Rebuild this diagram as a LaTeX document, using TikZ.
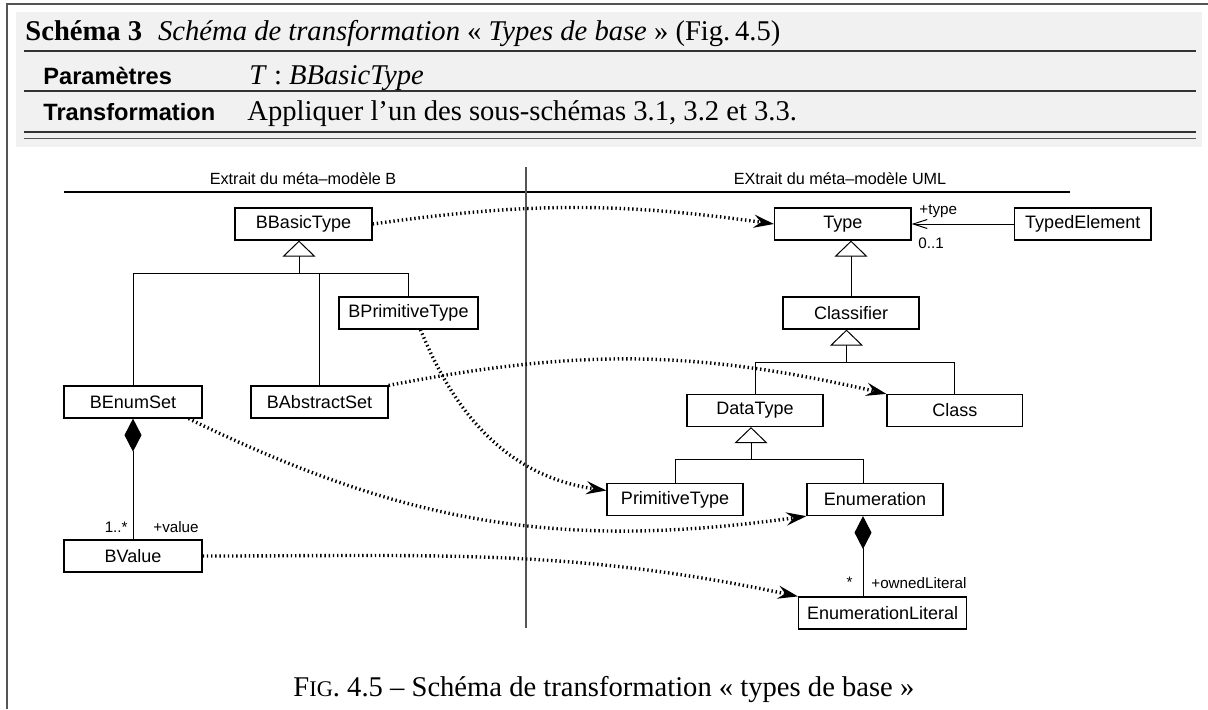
\documentclass[tikz,border=0pt]{standalone}
\usepackage{fontspec}
\setmainfont{Liberation Serif}
\setsansfont{Liberation Sans}
\usetikzlibrary{arrows.meta}

\begin{document}
\begin{tikzpicture}[x=0.5pt, y=-0.5pt,
    umlbox/.style={draw=black, line width=0.6pt, minimum height=16pt, inner sep=0pt,
        font=\sffamily\fontsize{9}{10}\selectfont},
    multLabel/.style={inner sep=0pt, font=\sffamily\fontsize{7.6}{9}\selectfont},
    titleLabel/.style={inner sep=0pt, font=\sffamily\fontsize{8.1}{10}\selectfont},
    generalisation/.style={line width=0.5pt, -{Triangle[open, fill=white, length=8pt, width=16.5pt]}},
    composition/.style={line width=0.5pt, {Diamond[length=16.5pt, width=8.5pt]}-},
    mapping/.style={line width=1.7pt, dash pattern=on 0.7pt off 1.4pt,
        -{Stealth[length=10pt, width=6.5pt, inset=3.5pt]}}]
    \useasboundingbox (0,0) rectangle (1208,709);

    \definecolor{frameColour}{HTML}{555555}
    \definecolor{ruleColour}{HTML}{333333}
    \definecolor{headerFill}{HTML}{F1F1F1}
    \def\serifSize{\fontsize{14.3}{17}\selectfont}
    \def\headSize{\sffamily\bfseries\fontsize{11.8}{14}\selectfont}

    % Frame and header table
    \draw[frameColour, line width=0.8pt] (7,709) -- (7,4) -- (1208,4);
    \fill[headerFill] (16,12) rectangle (1202,147);
    \draw[ruleColour, line width=0.6pt] (24,51) -- (1196,51);
    \draw[ruleColour, line width=0.6pt] (24,91) -- (1196,91);
    \draw[ruleColour, line width=0.7pt] (24,132) -- (1196,132);
    \draw[frameColour, line width=0.5pt] (24,138) -- (1196,138);

    \node[anchor=base west, inner sep=0pt, font=\serifSize] (schema) at (25,40)
        {\textbf{Schéma 3}\hspace{8pt}\textit{Schéma de transformation} « \textit{Types de base} » (Fig.\,4.5)};
    \node[anchor=base west, inner sep=0pt, font=\headSize] (paramKey) at (43,84) {Paramètres};
    \node[anchor=base west, inner sep=0pt, font=\serifSize] (paramVal) at (249,84) {\textit{T} : \textit{BBasicType}};
    \node[anchor=base west, inner sep=0pt, font=\headSize] (transKey) at (43,120) {Transformation};
    \node[anchor=base west, inner sep=0pt, font=\serifSize] (transVal) at (247,120)
        {Appliquer l’un des sous-schémas 3.1, 3.2 et 3.3.};

    % Two halves of the diagram
    \node[titleLabel] (titleB) at (303,179) {Extrait du méta–modèle B};
    \node[titleLabel] (titleUML) at (840,179) {EXtrait du méta–modèle UML};
    \draw[line width=0.6pt] (64,192) -- (1070,192);
    \draw[frameColour, line width=0.6pt] (526,167) -- (526,628);

    % B meta-model
    \node[umlbox, minimum width=68.5pt] (BBasicType) at (303.5,224) {BBasicType};
    \node[umlbox, minimum width=69.5pt] (BPrimitiveType) at (408.5,313) {BPrimitiveType};
    \node[umlbox, minimum width=69pt] (BEnumSet) at (133,402) {BEnumSet};
    \node[umlbox, minimum width=68.5pt] (BAbstractSet) at (319.5,402) {BAbstractSet};
    \node[umlbox, minimum width=69pt] (BValue) at (133,556) {BValue};

    \coordinate (genB) at (299,273);
    \draw[generalisation] (genB) -- (genB |- BBasicType.south);
    \draw[line width=0.5pt] (BEnumSet.north) |- (genB) -| (BPrimitiveType.north);
    \draw[line width=0.5pt] (BAbstractSet.north) -- (BAbstractSet.north |- genB);
    \draw[composition] (BEnumSet.south) -- (BValue.north);
    \node[multLabel, anchor=east] (valueMult) at (128,527) {1..*};
    \node[multLabel, anchor=west] (valueRole) at (153,527) {+value};

    % UML meta-model
    \node[umlbox, minimum width=68.25pt] (Type) at (842.75,224) {Type};
    \node[umlbox, minimum width=68.25pt] (TypedElement) at (1082.75,224) {TypedElement};
    \node[umlbox, minimum width=68pt] (Classifier) at (851,313) {Classifier};
    \node[umlbox, minimum width=68pt] (DataType) at (755,410.5) {DataType};
    \node[umlbox, minimum width=67.75pt] (Class) at (954.75,410.5) {Class};
    \node[umlbox, minimum width=68pt] (PrimitiveType) at (675,499.5) {PrimitiveType};
    \node[umlbox, minimum width=68pt] (Enumeration) at (875,499.5) {Enumeration};
    \node[umlbox, minimum width=84pt] (EnumerationLiteral) at (882.6,613) {EnumerationLiteral};

    \draw[line width=0.5pt, -{Straight Barb[length=7pt, width=4.5pt]}] (TypedElement.west) -- (Type.east);
    \node[multLabel, anchor=west] (typeRole) at (919,211) {+type};
    \node[multLabel, anchor=west] (typeMult) at (918,243) {0..1};

    \draw[generalisation] (Classifier.north) -- (Classifier.north |- Type.south);
    \coordinate (genC) at (846.5,362);
    \draw[generalisation] (genC) -- (genC |- Classifier.south);
    \draw[line width=0.5pt] (DataType.north) |- (genC) -| (Class.north);
    \coordinate (genD) at (751,459);
    \draw[generalisation] (genD) -- (genD |- DataType.south);
    \draw[line width=0.5pt] (PrimitiveType.north) |- (genD) -| ([xshift=-6pt]Enumeration.north);
    \draw[composition] ([xshift=-6pt]Enumeration.south) -- ([xshift=-6pt]Enumeration.south |- EnumerationLiteral.north);
    \node[multLabel] (literalMult) at (849.5,582) {*};
    \node[multLabel, anchor=west] (literalRole) at (871,583) {+ownedLiteral};

    % Mappings from B to UML
    \draw[mapping] (BBasicType.east) to[bend left=8] (Type.west);
    \draw[mapping] ([xshift=6pt]BPrimitiveType.south) to[out=-68, in=172] ([yshift=4.5pt]PrimitiveType.west);
    \draw[mapping] (BAbstractSet.north east) to[bend left=12] (Class.north west);
    \draw[mapping] ([xshift=-7pt]BEnumSet.south east) to[out=-26, in=-172] (Enumeration.south west);
    \draw[mapping] (BValue.east) to[out=0, in=168] (EnumerationLiteral.north west);

    % Caption
    \node[anchor=base west, inner sep=0pt, font=\serifSize] (caption) at (293,696)
        {F{\fontsize{11.2}{13}\selectfont IG}. 4.5 – Schéma de transformation « types de base »};

\end{tikzpicture}
\end{document}
